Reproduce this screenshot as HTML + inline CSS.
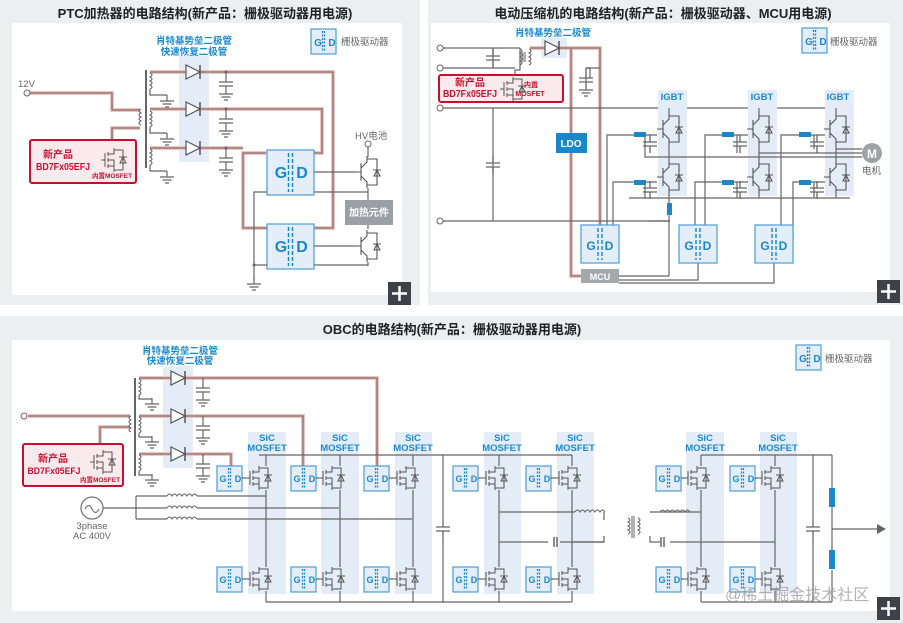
<!DOCTYPE html>
<html><head><meta charset="utf-8"><style>
html,body{margin:0;padding:0;background:#fff;}
svg{display:block;font-family:"Liberation Sans","Noto Sans CJK SC",sans-serif;}
.t{font-weight:bold;font-size:13px;fill:#222;text-anchor:middle}
.bl{fill:#1a8ad0;font-weight:bold;font-size:9.5px;text-anchor:middle}
.g{fill:#666;font-size:9.5px}
.w{fill:none;stroke:#666;stroke-width:1.2}
.hw{fill:none;stroke:#e8c6c3;stroke-width:4}
.hw2{fill:none;stroke:#8e6763;stroke-width:1.3}
.gdt{fill:#1a86cc;font-weight:bold;text-anchor:middle}
.red{fill:#c8102e;font-weight:bold;text-anchor:middle}
</style></head><body>
<svg width="903" height="623" viewBox="0 0 903 623" xmlns="http://www.w3.org/2000/svg">
<defs>
<g id="dio"><path d="M-7,-7 L7,0 L-7,7 Z" fill="#fff" stroke="#555" stroke-width="1.2"/><path d="M7,-7 V7" stroke="#555" stroke-width="1.5"/></g>
<g id="cap"><path d="M0,-9 V-2 M-7,-2 H7 M-7,2 H7 M0,2 V9" stroke="#666" stroke-width="1.3" fill="none"/></g>
<g id="gnd"><path d="M0,-6 V0 M-7,0 H7 M-4.5,3 H4.5 M-2,6 H2" stroke="#666" stroke-width="1.2" fill="none"/></g>
<g id="capg"><path d="M0,0 V10 M-7,10 H7 M-7,14 H7 M0,14 V22 M-7,22 H7 M-4.5,25 H4.5 M-2,28 H2" stroke="#666" stroke-width="1.2" fill="none"/></g>
<g id="mos"><path d="M-10,0 H-6 M-6,-7 V7 M-3,-8 V-4 M-3,-2 V2 M-3,4 V8 M-3,-6 H3 V-12 M-3,6 H3 V12 M-3,0 H3 V6 M3,-10 H12 V10 H3 M8,-3 H16 M9,3 L12,-3 L15,3 Z" stroke="#555" stroke-width="1" fill="none"/></g>
<g id="igbt"><path d="M-12,0 H-6 M-6,-9 V9 M-6,-4 L0,-10 V-16 M-6,4 L0,10 V16 M0,-13 H10 V13 H0 M6,-2 H14 M7,4 L10,-2 L13,4 Z" stroke="#555" stroke-width="1.1" fill="none"/></g>
<g id="gdl"><rect x="0" y="0" width="25" height="25" fill="#e4eef9" stroke="#4a9ed8" stroke-width="1.2"/><path d="M11.5,2 V23 M13.5,2 V23" stroke="#1a86cc" stroke-width="1.3" stroke-dasharray="2,1.5"/></g>
<g id="gdb"><rect x="0" y="0" width="47" height="45" fill="#e4eef9" stroke="#4a9ed8" stroke-width="1.2"/><path d="M21.5,3 V42 M25.5,3 V42" stroke="#1a86cc" stroke-width="1.5" stroke-dasharray="4,2"/></g>
<g id="gdm"><rect x="0" y="0" width="38" height="38" fill="#e4eef9" stroke="#4a9ed8" stroke-width="1.2"/><path d="M17,3 V35 M21,3 V35" stroke="#1a86cc" stroke-width="1.4" stroke-dasharray="4,2"/></g>
<g id="coil"><path d="M0,0 q4,2 0,4 q4,2 0,4 q4,2 0,4 q4,2 0,4" stroke="#666" fill="none" stroke-width="1.1"/></g>
<g id="ind"><path d="M0,0 q2.5,-4 5,0 q2.5,-4 5,0 q2.5,-4 5,0 q2.5,-4 5,0 q2.5,-4 5,0 q2.5,-4 5,0" stroke="#666" fill="none" stroke-width="1.1"/></g>
<g id="plus"><rect x="0" y="0" width="23" height="23" fill="#3c4247"/><path d="M11.5,4 V19 M4,11.5 H19" stroke="#fff" stroke-width="2.5"/></g>
</defs>

<rect x="0" y="0" width="420" height="305" fill="#eceef0"/>
<rect x="12" y="23" width="390" height="272" fill="#fff"/>
<rect x="428" y="0" width="475" height="305" fill="#eceef0"/>
<rect x="431" y="23" width="459" height="269" fill="#fff"/>
<rect x="0" y="316" width="903" height="307" fill="#eceef0"/>
<rect x="12" y="340" width="878" height="271" fill="#fff"/>

<!-- ============ PANEL 1 ============ -->
<text class="t" x="205" y="18">PTC加热器的电路结构(新产品：栅极驱动器用电源)</text>
<use href="#gdl" x="311" y="29"/><text class="gdt" x="318" y="46" font-size="10">G</text><text class="gdt" x="332" y="46" font-size="10">D</text>
<text class="g" x="341" y="45">栅极驱动器</text>
<text class="bl" x="194" y="44">肖特基势垒二极管</text>
<text class="bl" x="194" y="55">快速恢复二极管</text>
<rect x="179" y="56" width="30" height="106" fill="#e4ecf7"/>
<path class="hw" d="M30,93 H112 V110 H140 M140,128 H112 V150 M150,72 H333 V228 H243 V153 H266 M150,109 H322 V153 H314 M150,148 H243"/>
<path class="hw2" d="M30,93 H112 V110 H140 M140,128 H112 V150 M150,72 H333 V228 H243 V153 H266 M150,109 H322 V153 H314 M150,148 H243"/>
<circle cx="27" cy="93" r="3" fill="#fff" stroke="#666"/>
<text class="g" x="18" y="87" font-size="9.5">12V</text>
<path d="M146,70 V168" stroke="#666" stroke-width="2"/>
<use href="#coil" x="141" y="109" transform="matrix(-1,0,0,1,282,0)"/>
<use href="#coil" x="150" y="73"/><use href="#coil" x="150" y="111"/><use href="#coil" x="150" y="149"/>
<path class="w" d="M150,89 V95 H167 M150,127 H150 V133 H167 M150,165 V171 H167"/>
<use href="#gnd" x="167" y="101"/><use href="#gnd" x="167" y="139"/><use href="#gnd" x="167" y="177"/>
<use href="#dio" x="193" y="72"/><use href="#dio" x="193" y="109"/><use href="#dio" x="193" y="148"/>
<circle cx="226" cy="72" r="1.5" fill="#666"/><circle cx="226" cy="109" r="1.5" fill="#666"/><circle cx="226" cy="148" r="1.5" fill="#666"/>
<use href="#capg" x="226" y="72"/><use href="#capg" x="226" y="109"/><use href="#capg" x="226" y="148"/>
<rect x="30" y="140" width="106" height="43" fill="#fbeaed" stroke="#c8102e" stroke-width="2" rx="2"/>
<text class="red" x="58" y="158" font-size="10">新产品</text>
<text class="red" x="63" y="170" font-size="10" textLength="54" lengthAdjust="spacingAndGlyphs">BD7Fx05EFJ</text>
<text class="red" x="112" y="178" font-size="6.5">内置MOSFET</text>
<use href="#mos" x="111" y="160"/>
<use href="#gdb" x="267" y="150"/><text class="gdt" x="281" y="178" font-size="16">G</text><text class="gdt" x="302" y="178" font-size="16">D</text>
<use href="#gdb" x="267" y="224"/><text class="gdt" x="281" y="252" font-size="16">G</text><text class="gdt" x="302" y="252" font-size="16">D</text>
<path class="w" d="M267,192 H254 V280 M267,265 H254 M314,172 H355 M314,192 H368 M314,246 H355 M314,265 H368"/>
<use href="#gnd" x="254" y="284"/>
<circle cx="254" cy="265" r="1.5" fill="#666"/>
<text class="g" x="355" y="139" font-size="9.5">HV电池</text>
<circle cx="368" cy="144" r="3" fill="#fff" stroke="#666"/>
<path class="w" d="M368,147 V157 M368,188 V200 M368,225 V229 M368,262 V266"/>
<use href="#igbt" x="367" y="172"/><use href="#igbt" x="367" y="246"/>
<rect x="345" y="200" width="48" height="25" fill="#9aa0a5"/>
<text x="369" y="216" fill="#fff" font-size="10" font-weight="bold" text-anchor="middle">加热元件</text>
<use href="#plus" x="388" y="282"/>

<!-- ============ PANEL 2 ============ -->
<text class="t" x="663" y="18">电动压缩机的电路结构(新产品：栅极驱动器、MCU用电源)</text>
<use href="#gdl" x="802" y="28"/><text class="gdt" x="809" y="45" font-size="10">G</text><text class="gdt" x="823" y="45" font-size="10">D</text>
<text class="g" x="830" y="45">栅极驱动器</text>
<text class="bl" x="553" y="36">肖特基势垒二极管</text>
<rect x="541" y="38" width="26" height="20" fill="#e4ecf7"/>
<path class="hw" d="M530,48 H600 V228 M571,48 V276 H581"/>
<path class="hw2" d="M530,48 H600 V228 M571,48 V276 H581"/>
<path class="w" d="M443,48 H520 M443,68 H515 M443,108 H850 M443,221 H670 M493,48 V68 M493,108 V221 M520,48 V70 H515 V82 M587,68 H590 V78"/>
<circle cx="440" cy="48" r="3" fill="#fff" stroke="#666"/><circle cx="440" cy="68" r="3" fill="#fff" stroke="#666"/>
<circle cx="440" cy="108" r="3" fill="#fff" stroke="#666"/><circle cx="440" cy="221" r="3" fill="#fff" stroke="#666"/>
<use href="#cap" x="493" y="58"/><use href="#cap" x="493" y="165"/>
<path d="M523,52 V62 M525,52 V62" stroke="#666"/>
<use href="#coil" x="520" y="49"/><use href="#coil" x="529" y="49"/>
<use href="#dio" x="552" y="48"/>
<path class="w" d="M600,68 H586 V88"/>
<use href="#capg" x="586" y="68"/>
<rect x="439" y="75" width="124" height="27" fill="#fbeaed" stroke="#c8102e" stroke-width="2" rx="2"/>
<text class="red" x="470" y="86" font-size="10">新产品</text>
<text class="red" x="470" y="97" font-size="10" textLength="54" lengthAdjust="spacingAndGlyphs">BD7Fx05EFJ</text>
<text class="red" x="531" y="87" font-size="7" text-anchor="start">内置</text>
<text class="red" x="530" y="96" font-size="7" text-anchor="start">MOSFET</text>
<use href="#mos" x="510" y="89"/>
<rect x="556" y="133" width="31" height="20" fill="#1a86cc"/>
<text x="571" y="147" fill="#fff" font-size="10" font-weight="bold" text-anchor="middle">LDO</text>
<rect x="658" y="90" width="29" height="106" fill="#e4ecf7"/>
<rect x="748" y="90" width="29" height="106" fill="#e4ecf7"/>
<rect x="825" y="90" width="29" height="106" fill="#e4ecf7"/>
<text class="bl" x="672" y="100" font-weight="normal" font-size="9">IGBT</text>
<text class="bl" x="762" y="100" font-weight="normal" font-size="9">IGBT</text>
<text class="bl" x="838" y="100" font-weight="normal" font-size="9">IGBT</text>
<use href="#igbt" x="669" y="129"/><use href="#igbt" x="669" y="177"/>
<use href="#igbt" x="759" y="129"/><use href="#igbt" x="759" y="177"/>
<use href="#igbt" x="836" y="129"/><use href="#igbt" x="836" y="177"/>
<path class="w" d="M669,108 V113 M759,108 V113 M836,108 V113 M669,145 V161 M759,145 V161 M836,145 V161 M629,198 H850 M669,193 V198 M759,193 V198 M836,193 V198
M669,157 H862 M759,153 H862 M836,149 H862
M657,135 H645 V157 H669 M657,182 H645 V198 M748,135 H737 V153 M748,182 H737 V198 M825,135 H814 V149 M825,182 H814 V198
M657,135 H607 V228 M657,182 H613 V228 M748,135 H705 V228 M748,182 H695 V228 M825,135 H781 V228 M825,182 H793 V240
M669,198 V276 M649,221 H669 M600,276 H669 M619,280 H698 V263 M619,283 H774 V263"/>
<rect x="634" y="132" width="12" height="5" fill="#1a86cc"/><rect x="634" y="180" width="12" height="5" fill="#1a86cc"/>
<rect x="722" y="132" width="12" height="5" fill="#1a86cc"/><rect x="722" y="180" width="12" height="5" fill="#1a86cc"/>
<rect x="799" y="132" width="12" height="5" fill="#1a86cc"/><rect x="799" y="180" width="12" height="5" fill="#1a86cc"/>
<rect x="667" y="203" width="5" height="12" fill="#1a86cc"/>
<use href="#cap" x="650" y="144"/><use href="#cap" x="650" y="190"/><use href="#cap" x="740" y="144"/><use href="#cap" x="740" y="190"/><use href="#cap" x="817" y="144"/><use href="#cap" x="817" y="190"/>
<circle cx="872" cy="153" r="10" fill="#9ea3a8"/>
<text x="872" y="158" fill="#fff" font-size="12" font-weight="bold" text-anchor="middle">M</text>
<text class="g" x="862" y="174">电机</text>
<use href="#gdm" x="581" y="225"/><text class="gdt" x="591" y="250" font-size="12">G</text><text class="gdt" x="609" y="250" font-size="12">D</text>
<use href="#gdm" x="679" y="225"/><text class="gdt" x="689" y="250" font-size="12">G</text><text class="gdt" x="707" y="250" font-size="12">D</text>
<use href="#gdm" x="755" y="225"/><text class="gdt" x="765" y="250" font-size="12">G</text><text class="gdt" x="783" y="250" font-size="12">D</text>
<rect x="581" y="269" width="38" height="14" fill="#a3a8ad"/>
<text x="600" y="280" fill="#fff" font-size="9" font-weight="bold" text-anchor="middle">MCU</text>
<use href="#plus" x="877" y="280"/>

<!-- ============ PANEL 3 ============ -->
<text class="t" x="452" y="334">OBC的电路结构(新产品：栅极驱动器用电源)</text>
<use href="#gdl" x="796" y="345"/><text class="gdt" x="803" y="362" font-size="10">G</text><text class="gdt" x="817" y="362" font-size="10">D</text>
<text class="g" x="825" y="362" font-size="9">栅极驱动器</text>
<text class="bl" x="180" y="354" font-size="9">肖特基势垒二极管</text>
<text class="bl" x="180" y="364" font-size="9">快速恢复二极管</text>
<rect x="163" y="366" width="30" height="102" fill="#e4ecf7"/>
<rect x="248" y="432" width="38" height="162" fill="#e4ecf7"/>
<rect x="321" y="432" width="38" height="162" fill="#e4ecf7"/>
<rect x="395" y="432" width="37" height="162" fill="#e4ecf7"/>
<rect x="484" y="432" width="37" height="162" fill="#e4ecf7"/>
<rect x="557" y="432" width="37" height="162" fill="#e4ecf7"/>
<rect x="686" y="432" width="38" height="162" fill="#e4ecf7"/>
<rect x="760" y="432" width="37" height="162" fill="#e4ecf7"/>
<g class="bl" font-size="9" font-weight="normal">
<text x="267" y="441">SiC</text><text x="267" y="451">MOSFET</text>
<text x="340" y="441">SiC</text><text x="340" y="451">MOSFET</text>
<text x="413" y="441">SiC</text><text x="413" y="451">MOSFET</text>
<text x="502" y="441">SiC</text><text x="502" y="451">MOSFET</text>
<text x="575" y="441">SiC</text><text x="575" y="451">MOSFET</text>
<text x="705" y="441">SiC</text><text x="705" y="451">MOSFET</text>
<text x="778" y="441">SiC</text><text x="778" y="451">MOSFET</text>
</g>
<path class="hw" d="M28,416 H130 M130,427 H100 V448 M139,378 H377 V466 M139,416 H303 V466 M139,454 H231 V466"/>
<path class="hw2" d="M28,416 H130 M130,427 H100 V448 M139,378 H377 V466 M139,416 H303 V466 M139,454 H231 V466"/>
<circle cx="24" cy="416" r="3" fill="#fff" stroke="#666"/>
<path d="M135,378 V476" stroke="#666" stroke-width="2"/>
<use href="#coil" x="131" y="416" transform="matrix(-1,0,0,1,262,0)"/>
<use href="#coil" x="139" y="379"/><use href="#coil" x="139" y="417"/><use href="#coil" x="139" y="455"/>
<path class="w" d="M139,395 V399 H152 M139,433 V437 H152 M139,471 V475 H152"/>
<use href="#gnd" x="152" y="404"/><use href="#gnd" x="152" y="442"/><use href="#gnd" x="152" y="480"/>
<use href="#dio" x="178" y="378"/><use href="#dio" x="178" y="416"/><use href="#dio" x="178" y="454"/>
<use href="#capg" x="203" y="378"/><use href="#capg" x="203" y="416"/><use href="#capg" x="203" y="454"/>
<rect x="23" y="444" width="100" height="42" fill="#fbeaed" stroke="#c8102e" stroke-width="2" rx="2"/>
<text class="red" x="53" y="462" font-size="10">新产品</text>
<text class="red" x="54" y="474" font-size="9.5" textLength="53" lengthAdjust="spacingAndGlyphs">BD7Fx05EFJ</text>
<text class="red" x="100" y="482" font-size="6.5">内置MOSFET</text>
<use href="#mos" x="100" y="462"/>
<circle cx="92" cy="508" r="11" fill="#fff" stroke="#777" stroke-width="1.3"/>
<path d="M85,509 q3.5,-7 7,0 q3.5,7 7,0" stroke="#777" fill="none" stroke-width="1.3"/>
<text class="g" x="92" y="529" text-anchor="middle" font-size="9.5">3phase</text>
<text class="g" x="92" y="539" text-anchor="middle" font-size="9.5">AC 400V</text>
<path class="w" d="M103,508 H136 M136,496 V519 M136,496 H167 M197,496 H266 M136,508 H167 M197,508 H339 M136,519 H167 M197,519 H412"/>
<use href="#ind" x="167" y="496"/><use href="#ind" x="167" y="508"/><use href="#ind" x="167" y="519"/>
<g>
<use href="#gdl" x="217" y="466"/><use href="#gdl" x="291" y="466"/><use href="#gdl" x="364" y="466"/><use href="#gdl" x="453" y="466"/><use href="#gdl" x="526" y="466"/><use href="#gdl" x="656" y="466"/><use href="#gdl" x="730" y="466"/>
<use href="#gdl" x="217" y="567"/><use href="#gdl" x="291" y="567"/><use href="#gdl" x="364" y="567"/><use href="#gdl" x="453" y="567"/><use href="#gdl" x="526" y="567"/><use href="#gdl" x="656" y="567"/><use href="#gdl" x="730" y="567"/>
</g>
<g class="gdt" font-size="9">
<text x="223" y="482">G</text><text x="238" y="482">D</text><text x="297" y="482">G</text><text x="312" y="482">D</text><text x="370" y="482">G</text><text x="385" y="482">D</text><text x="459" y="482">G</text><text x="474" y="482">D</text><text x="532" y="482">G</text><text x="547" y="482">D</text><text x="662" y="482">G</text><text x="677" y="482">D</text><text x="736" y="482">G</text><text x="751" y="482">D</text>
<text x="223" y="583">G</text><text x="238" y="583">D</text><text x="297" y="583">G</text><text x="312" y="583">D</text><text x="370" y="583">G</text><text x="385" y="583">D</text><text x="459" y="583">G</text><text x="474" y="583">D</text><text x="532" y="583">G</text><text x="547" y="583">D</text><text x="662" y="583">G</text><text x="677" y="583">D</text><text x="736" y="583">G</text><text x="751" y="583">D</text>
</g>
<g>
<use href="#mos" x="256" y="478"/><use href="#mos" x="329" y="478"/><use href="#mos" x="403" y="478"/><use href="#mos" x="492" y="478"/><use href="#mos" x="565" y="478"/><use href="#mos" x="694" y="478"/><use href="#mos" x="768" y="478"/>
<use href="#mos" x="256" y="579"/><use href="#mos" x="329" y="579"/><use href="#mos" x="403" y="579"/><use href="#mos" x="492" y="579"/><use href="#mos" x="565" y="579"/><use href="#mos" x="694" y="579"/><use href="#mos" x="768" y="579"/>
</g>
<path class="w" d="M242,478 H246 M316,478 H319 M389,478 H393 M478,478 H482 M551,478 H555 M681,478 H684 M755,478 H758
M242,579 H246 M316,579 H319 M389,579 H393 M478,579 H482 M551,579 H555 M681,579 H684 M755,579 H758
M259,455 H443 M443,455 H572 M572,455 V466 M499,455 V466 M413,455 V466 M340,455 V466 M266,455 V466
M701,455 H832 M701,455 V466 M775,455 V466
M266,490 V567 M340,490 V567 M413,490 V567 M499,490 V567 M572,490 V567 M701,490 V567 M775,490 V567
M266,591 V602 M340,591 V602 M413,591 V602 M499,591 V602 M572,591 V602 M701,591 V602 M775,591 V602
M266,602 H443 M443,602 H572 M701,602 H832
M443,455 V520 M443,538 V602 M813,455 V520 M813,538 V602
M499,512 H575 M604,512 V520
M572,542 H604 V536 M650,512 H701 M650,536 V542 H660 M670,542 H775"/>
<path class="w" d="M499,542 H548 M560,542 H604"/>
<path d="M554,537 V547 M557,537 V547 M661,537 V547 M664,537 V547" stroke="#666" stroke-width="1.5"/>
<use href="#ind" x="575" y="512"/><use href="#ind" x="660" y="512"/>
<use href="#coil" x="628" y="518"/><use href="#coil" x="638" y="518"/>
<path d="M632,516 V538 M634,516 V538" stroke="#666"/>
<use href="#cap" x="443" y="529"/><use href="#cap" x="813" y="529"/>
<path class="w" d="M832,455 V488 M832,507 V550 M832,570 V602 M832,529 H880"/>
<path d="M877,524 L886,529 L877,534 Z" fill="#666"/>
<rect x="829" y="488" width="6" height="19" fill="#1a86cc"/>
<rect x="829" y="550" width="6" height="19" fill="#1a86cc"/>
<text x="725" y="600" fill="#999" fill-opacity="0.75" font-size="16">@稀土掘金技术社区</text>
<use href="#plus" x="877" y="597"/>
</svg>
</body></html>
